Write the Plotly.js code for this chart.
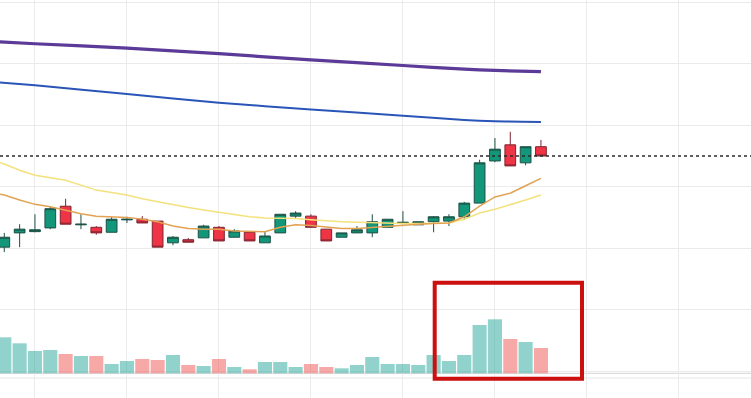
<!DOCTYPE html>
<html>
<head>
<meta charset="utf-8">
<script src="https://cdn.plot.ly/plotly-3.0.1.min.js"></script>
<style>
  html, body { margin: 0; padding: 0; background: #ffffff; }
  #chart { width: 751px; height: 398px; }
</style>
</head>
<body>
<div id="chart"></div>
<script>
// ---- data ----
const candleIndex = [0,1,2,3,4,5,6,7,8,9,10,11,12,13,14,15,16,17,18,19,20,21,22,23,24,25,26,27,28,29,30,31,32,33,34,35];
const openP  = [19.03,19.26,19.28,19.34,19.69,19.39,19.35,19.27,19.47,19.48,19.45,19.10,19.15,19.18,19.35,19.19,19.27,19.10,19.26,19.53,19.53,19.32,19.19,19.26,19.26,19.35,19.42,19.39,19.44,19.45,19.52,19.74,20.42,20.68,20.39,20.65];
const highP  = [19.26,19.40,19.56,19.69,19.81,19.56,19.37,19.52,19.52,19.53,19.45,19.21,19.18,19.39,19.37,19.32,19.27,19.29,19.56,19.61,19.56,19.32,19.26,19.37,19.56,19.48,19.61,19.44,19.53,19.56,19.76,20.44,20.79,20.89,20.65,20.76];
const lowP   = [18.95,19.03,19.27,19.32,19.40,19.32,19.23,19.27,19.42,19.42,19.03,19.06,19.11,19.18,19.13,19.19,19.13,19.10,19.26,19.50,19.35,19.13,19.19,19.26,19.19,19.35,19.40,19.39,19.27,19.37,19.48,19.74,20.40,20.34,20.35,20.50];
const closeP = [19.19,19.32,19.31,19.65,19.40,19.40,19.26,19.48,19.48,19.42,19.03,19.19,19.11,19.37,19.13,19.29,19.13,19.21,19.56,19.58,19.35,19.13,19.26,19.31,19.44,19.48,19.43,19.44,19.52,19.52,19.74,20.39,20.61,20.34,20.65,20.50];
const volume = [720,600,446,466,386,346,346,186,246,286,266,366,166,146,286,126,80,226,226,126,186,126,100,166,326,186,186,166,366,246,366,966,1080,686,626,506];

const maDenseIndex = [-1,0,1,2,3,4,5,6,7,8,9,10,11,12,13,14,15,16,17,18,19,20,21,22,23,24,25,26,27,28,29,30,31,32,33,34,35];
const maOrange = [19.92,19.87,19.79,19.72,19.68,19.62,19.57,19.53,19.52,19.51,19.48,19.44,19.37,19.33,19.32,19.32,19.29,19.28,19.28,19.35,19.39,19.38,19.35,19.33,19.33,19.35,19.36,19.39,19.40,19.41,19.42,19.52,19.69,19.84,19.90,20.02,20.14];
const maYellow = [20.44,20.37,20.27,20.19,20.15,20.11,20.03,19.95,19.91,19.87,19.81,19.76,19.71,19.67,19.63,19.59,19.56,19.52,19.50,19.50,19.49,19.47,19.45,19.44,19.43,19.42,19.41,19.41,19.41,19.41,19.42,19.48,19.58,19.64,19.71,19.79,19.87];
const maSparseIndex = [-1,2,8,14,20,26,30,32,35];
const maBlue   = [21.70,21.64,21.50,21.36,21.25,21.15,21.08,21.06,21.05];
const maPurple = [22.35,22.31,22.24,22.15,22.05,21.96,21.90,21.88,21.86];

// ---- styles ----
const UP = '#12977a', UP_LINE = '#1f4f45';
const DN = '#ef3445', DN_LINE = '#7d2430';
const VOL_UP = 'rgba(38,166,154,0.5)', VOL_DN = 'rgba(239,83,80,0.5)';
const volColors = candleIndex.map(i => closeP[i] >= openP[i] ? VOL_UP : VOL_DN);

const traces = [
  { type: 'bar', x: candleIndex, y: volume, yaxis: 'y2', width: 0.92,
    marker: { color: volColors, line: { width: 0 } }, hoverinfo: 'skip', showlegend: false },
  { type: 'scatter', mode: 'lines', x: maSparseIndex, y: maPurple,
    line: { color: '#5b3a98', width: 3.2, shape: 'spline', smoothing: 0.6 }, hoverinfo: 'skip', showlegend: false },
  { type: 'scatter', mode: 'lines', x: maSparseIndex, y: maBlue,
    line: { color: '#2a55b8', width: 2, shape: 'spline', smoothing: 0.6 }, hoverinfo: 'skip', showlegend: false },
  { type: 'scatter', mode: 'lines', x: maDenseIndex, y: maYellow,
    line: { color: '#f3e27c', width: 1.5 }, hoverinfo: 'skip', showlegend: false },
  { type: 'scatter', mode: 'lines', x: maDenseIndex, y: maOrange,
    line: { color: '#e2a253', width: 1.5 }, hoverinfo: 'skip', showlegend: false },
  { type: 'candlestick', x: candleIndex, open: openP, high: highP, low: lowP, close: closeP,
    increasing: { line: { color: UP_LINE, width: 1 }, fillcolor: UP },
    decreasing: { line: { color: DN_LINE, width: 1 }, fillcolor: DN },
    whiskerwidth: 0, hoverinfo: 'skip', showlegend: false }
];

const layout = {
  width: 751, height: 398,
  margin: { l: 0, r: 0, t: 0, b: 0, pad: 0 },
  paper_bgcolor: '#ffffff', plot_bgcolor: '#ffffff',
  showlegend: false,
  boxgap: 0.3, boxgroupgap: 0,
  xaxis: {
    range: [-0.28, 48.7], tickmode: 'linear', tick0: 2, dtick: 6,
    showgrid: true, gridcolor: '#ebebeb', gridwidth: 1,
    showticklabels: false, ticks: '', zeroline: false, showline: false,
    rangeslider: { visible: false }, fixedrange: true
  },
  yaxis: {
    range: [16.597, 23.016], tickmode: 'linear', tick0: 20.005, dtick: 0.992,
    showgrid: true, gridcolor: '#ebebeb', gridwidth: 1,
    showticklabels: false, ticks: '', zeroline: false, showline: false, fixedrange: true
  },
  yaxis2: {
    overlaying: 'y', range: [-494, 7466], visible: false, showgrid: false, zeroline: false, fixedrange: true
  },
  shapes: [
    { type: 'line', xref: 'paper', yref: 'paper', x0: 0, x1: 1, y0: 1 - 378/398, y1: 1 - 378/398,
      line: { color: '#e6e6e6', width: 1 }, layer: 'below' },
    { type: 'line', xref: 'paper', yref: 'y2', x0: 0, x1: 1, y0: 0, y1: 0,
      line: { color: '#d4d4d4', width: 1 }, layer: 'below' },
    { type: 'line', xref: 'paper', yref: 'y', x0: 0, x1: 1, y0: closeP[closeP.length - 1], y1: closeP[closeP.length - 1],
      line: { color: '#2b2b2b', width: 1.5, dash: 'dot' } },
    { type: 'rect', xref: 'paper', yref: 'paper', x0: 434.7/751, x1: 582/751, y0: 1 - 378.7/398, y1: 1 - 282.7/398,
      line: { color: '#cc1010', width: 4 }, fillcolor: 'rgba(0,0,0,0)' }
  ]
};

Plotly.newPlot('chart', traces, layout, { displayModeBar: false, staticPlot: true });
</script>
</body>
</html>
